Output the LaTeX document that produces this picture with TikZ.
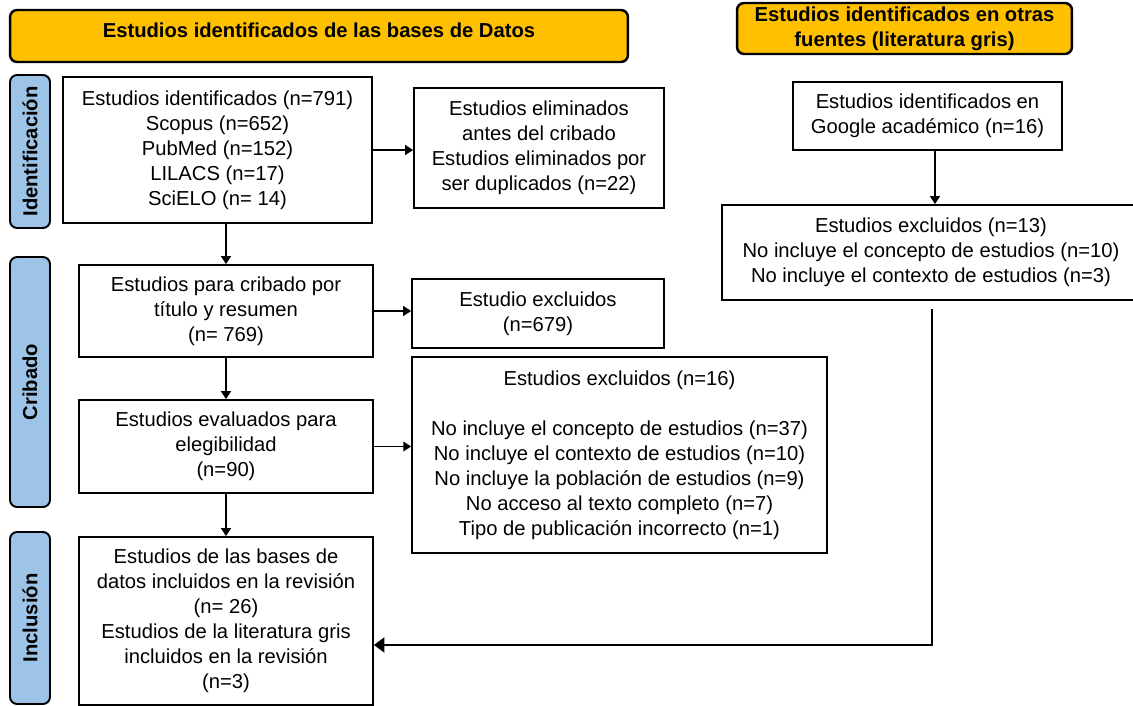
\documentclass[tikz,border=0pt]{standalone}
\usepackage{fontspec}
\setmainfont{Liberation Sans}
\usetikzlibrary{arrows.meta}
\definecolor{hdrorange}{HTML}{FFC000}
\definecolor{sideblue}{HTML}{9DC3E6}
\tikzset{
  box/.style={draw, line width=1pt, align=center, inner sep=0pt,
    font=\fontsize{11.5}{14.2}\selectfont},
  hdr/.style={draw, line width=1.4pt, rounded corners=4pt, fill=hdrorange,
    align=center, inner sep=0pt, font=\fontsize{11.5}{14.2}\selectfont\bfseries},
  side/.style={draw, line width=1.1pt, rounded corners=4pt, fill=sideblue,
    rotate=90, inner sep=0pt, minimum height=0.8cm,
    font=\fontsize{11.5}{14.2}\selectfont\bfseries},
  arr/.style={line width=1.1pt, -{Triangle[length=4.5pt,width=5.5pt]}}
}
\begin{document}
\begin{tikzpicture}[x=0.02cm, y=-0.02cm]
\useasboundingbox (0,0) rectangle (1133,706);
% headers
\node[hdr, minimum width=12.36cm, minimum height=1.04cm, text depth=6.5pt] (H1) at (319,36) {Estudios identificados de las bases de Datos};
\node[hdr, minimum width=6.7cm, minimum height=1.02cm] (H2) at (904.5,28.5) {Estudios identificados en otras\\fuentes (literatura gris)};
% phases
\node[side, minimum width=3.06cm] (S1) at (30,151.5) {Identificación};
\node[side, minimum width=5cm] (S2) at (30,382) {Cribado};
\node[side, minimum width=3.44cm] (S3) at (30,618) {Inclusión};
% databases
\node[box, minimum width=6.18cm, minimum height=2.92cm] (B1) at (217.5,150) {Estudios identificados (n=791)\\Scopus (n=652)\\PubMed (n=152)\\LILACS (n=17)\\SciELO (n= 14)};
\node[box, minimum width=5cm, minimum height=2.4cm] (B2) at (539,148) {Estudios eliminados\\antes del cribado\\Estudios eliminados por\\ser duplicados (n=22)};
\node[box, minimum width=5.88cm, minimum height=1.84cm] (B3) at (226,311) {Estudios para cribado por\\título y resumen\\(n= 769)};
\node[box, minimum width=5.04cm, minimum height=1.38cm] (B4) at (538,313.5) {Estudio excluidos\\(n=679)};
\node[box, minimum width=5.88cm, minimum height=1.86cm] (B5) at (226,446.5) {Estudios evaluados para\\elegibilidad\\(n=90)};
\node[box, minimum width=8.3cm, minimum height=3.92cm] (B6) at (619.5,455) {Estudios excluidos (n=16)\\[14.2pt]No incluye el concepto de estudios (n=37)\\No incluye el contexto de estudios (n=10)\\No incluye la población de estudios (n=9)\\No acceso al texto completo (n=7)\\Tipo de publicación incorrecto (n=1)};
\node[box, minimum width=5.88cm, minimum height=3.36cm] (B7) at (226,621) {Estudios de las bases de\\datos incluidos en la revisión\\(n= 26)\\Estudios de la literatura gris\\incluidos en la revisión\\(n=3)};
% grey literature
\node[box, minimum width=5.38cm, minimum height=1.36cm] (R1) at (927.5,116) {Estudios identificados en\\Google académico (n=16)};
\node[box, minimum width=8.36cm, minimum height=1.9cm] (R2) at (931,252.5) {Estudios excluidos (n=13)\\No incluye el concepto de estudios (n=10)\\No incluye el contexto de estudios (n=3)};
\coordinate (bend) at (932,645);

\draw[arr] (B1.east) -- (B1.east -| B2.west);
\draw[arr] (B3.north |- B1.south) -- (B3.north);
\draw[arr] (B3.east) -- (B3.east -| B4.west);
\draw[arr] (B3.south) -- (B5.north);
\draw[arr] (B5.east) -- (B5.east -| B6.west);
\draw[arr] (B5.south) -- (B7.north);
\draw[arr] ([xshift=0.15cm]R1.south) -- ([xshift=0.15cm]R1.south |- R2.north);
\draw[line width=1.3pt, -{Triangle[length=6pt,width=8.5pt]}] ([yshift=-0.16cm]bend |- R2.south) -- (bend) -- (bend -| B7.east);
\end{tikzpicture}
\end{document}
